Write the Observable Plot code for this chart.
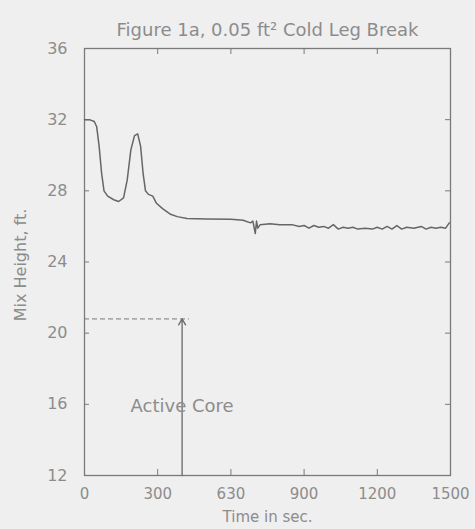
<!DOCTYPE html>
<html>
<head>
<meta charset="utf-8">
<script src="https://cdn.jsdelivr.net/npm/d3@7"></script>
<script src="https://cdn.jsdelivr.net/npm/@observablehq/plot@0.6"></script>
<style>
  html, body { margin: 0; padding: 0; background: #efefef; }
</style>
</head>
<body>
<div id="chart"></div>
<script>
const times = [0, 20, 40, 50, 60, 70, 80, 95, 120, 140, 160, 175, 190, 205, 218, 230, 240, 250, 262, 280, 295, 320, 350, 380, 420, 500, 600, 650, 680, 690, 700, 705, 710, 720, 760, 800, 850, 880, 900, 920, 940, 960, 980, 1000, 1020, 1040, 1060, 1080, 1100, 1120, 1150, 1180, 1200, 1220, 1240, 1260, 1280, 1300, 1320, 1350, 1380, 1400, 1420, 1440, 1460, 1480, 1495];
const heights = [32.0, 32.0, 31.9, 31.6, 30.5, 29.0, 28.0, 27.7, 27.5, 27.4, 27.6, 28.6, 30.3, 31.1, 31.2, 30.5, 29.0, 28.0, 27.8, 27.7, 27.3, 27.0, 26.7, 26.55, 26.45, 26.42, 26.4, 26.35, 26.2, 26.3, 25.6, 26.3, 25.9, 26.1, 26.15, 26.1, 26.1, 26.0, 26.05, 25.9, 26.05, 25.95, 26.0, 25.9, 26.1, 25.85, 25.95, 25.9, 25.95, 25.85, 25.9, 25.85, 25.95, 25.85, 26.0, 25.85, 26.05, 25.85, 25.95, 25.9, 26.0, 25.85, 25.95, 25.9, 25.95, 25.9, 26.2];

const xTicks = [0, 300, 600, 900, 1200, 1500];
const xTickLabels = ["0", "300", "630", "900", "1200", "1500"];
const yTicks = [12, 16, 20, 24, 28, 32, 36];
const innerXTicks = [300, 600, 900, 1200];
const innerYTicks = [16, 20, 24, 28, 32];

const coreLevel = 20.8;
const coreLineEnd = 430;
const arrowTime = 400;
const coreLabel = {t: 400, h: 15.9, text: "Active Core"};

const titleText = "Figure 1a, 0.05 ft\u00B2 Cold Leg Break";
const xLabel = "Time in sec.";
const yLabel = "Mix Height, ft.";

const series = times.map((t, i) => ({t, h: heights[i]}));

const W = 475, H = 529;
const mL = 84, mR = 25, mT = 48, mB = 54;
const fw = W - mL - mR, fh = H - mT - mB;
const ink = "#7a7a7a";
const txt = "#8c8c8c";

const chart = Plot.plot({
  width: W, height: H,
  marginLeft: mL, marginRight: mR, marginTop: mT, marginBottom: mB,
  style: {background: "#efefef", fontFamily: "DejaVu Sans, sans-serif", color: txt},
  x: {domain: [0, 1500]},
  y: {domain: [12, 36]},
  marks: [
    Plot.frame({stroke: ink, strokeWidth: 1.3}),
    Plot.tickX(innerXTicks, {x: d => d, stroke: ink, insetTop: fh - 6}),
    Plot.tickX(innerXTicks, {x: d => d, stroke: ink, insetBottom: fh - 6}),
    Plot.tickY(innerYTicks, {y: d => d, stroke: ink, insetRight: fw - 5}),
    Plot.tickY(innerYTicks, {y: d => d, stroke: ink, insetLeft: fw - 5}),
    Plot.axisX(xTicks, {tickSize: 0, tickPadding: 13, fontSize: 15, fill: txt, label: null,
      tickFormat: (d) => xTickLabels[xTicks.indexOf(d)]}),
    Plot.axisY(yTicks, {tickSize: 0, tickPadding: 17, fontSize: 16, fill: txt, label: null}),
    Plot.ruleY([coreLevel], {x1: 0, x2: coreLineEnd, stroke: ink, strokeDasharray: "5,3", strokeWidth: 1}),
    Plot.arrow([{t: arrowTime}], {x1: "t", x2: "t", y1: 12, y2: coreLevel, stroke: "#6a6a6a", strokeWidth: 1.3, headLength: 8}),
    Plot.text([coreLabel], {x: "t", y: "h", text: "text", fontSize: 18, fill: txt}),
    Plot.line(series, {x: "t", y: "h", stroke: "#666", strokeWidth: 1.5}),
    Plot.text([titleText], {frameAnchor: "top", textAnchor: "middle", dy: -25, dx: 0, fontSize: 18, fill: txt}),
    Plot.text([xLabel], {frameAnchor: "bottom", textAnchor: "middle", dy: 46, fontSize: 15, fill: txt}),
    Plot.text([yLabel], {frameAnchor: "left", textAnchor: "middle", dx: -64, dy: 3, rotate: -90, fontSize: 16, fill: txt})
  ]
});
document.getElementById("chart").appendChild(chart);
</script>
</body>
</html>
